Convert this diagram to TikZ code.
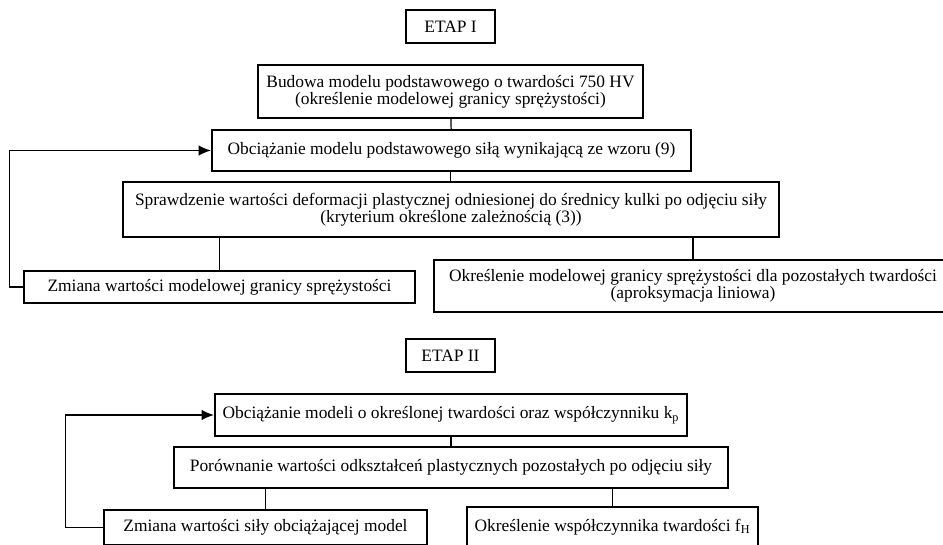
\documentclass[tikz,border=0pt]{standalone}
\usepackage{fontspec}
\setmainfont{Liberation Serif}
\usetikzlibrary{arrows.meta}

\tikzset{
  box/.style={draw, line width=1.3pt, align=center, inner sep=2pt,
              font=\fontsize{9.9}{9.8}\selectfont},
  link/.style={line width=0.7pt},
  back/.style={line width=0.7pt, -{Latex[length=7pt,width=6pt]}}
}

\begin{document}
\begin{tikzpicture}[x=1cm,y=1cm]
  \clip (0,0) rectangle (18.86,10.88);

  % --------------------
  % Etap I
  % --------------------
  \node[box, minimum width=1.78cm, minimum height=0.66cm] (etap1) at (9.01,10.35) {ETAP I};

  \node[box, minimum width=7.70cm, minimum height=1.06cm] (budowa) at (9.01,9.05)
    {Budowa modelu podstawowego o twardości 750 HV\\(określenie modelowej granicy sprężystości)};
  \node[box, minimum width=9.58cm, minimum height=0.82cm] (obc1) at (9.03,7.87)
    {Obciążanie modelu podstawowego siłą wynikającą ze wzoru (9)};
  \node[box, minimum width=13.12cm, minimum height=1.10cm] (spraw) at (9.02,6.69)
    {Sprawdzenie wartości deformacji plastycznej odniesionej do średnicy kulki po odjęciu siły\\(kryterium określone zależnością (3))};
  \node[box, minimum width=7.82cm, minimum height=0.64cm] (zmiana1) at (4.39,5.14)
    {Zmiana wartości modelowej granicy sprężystości};
  \node[box, minimum width=10.36cm, minimum height=1.04cm] (okresl) at (13.86,5.16)
    {Określenie modelowej granicy sprężystości dla pozostałych twardości\\(aproksymacja liniowa)};

  \draw[link] (budowa) -- (obc1);
  \draw[link] (obc1.south -| budowa) -- (spraw.north -| budowa);
  \draw[link] (spraw.south -| zmiana1) -- (zmiana1);
  \draw[link] (spraw.south -| okresl) -- (okresl);
  \draw[back] (zmiana1.west) -- ++(-0.26,0) |- (obc1.west);

  % --------------------
  % Etap II
  % --------------------
  \node[box, minimum width=1.78cm, minimum height=0.66cm] (etap2) at (9.01,3.77) {ETAP II};

  \node[box, minimum width=9.44cm, minimum height=0.84cm] (obc2) at (9.02,2.58)
    {Obciążanie modeli o określonej twardości oraz współczynniku k\textsubscript{p}};
  \node[box, minimum width=11.08cm, minimum height=0.82cm] (por) at (9.02,1.53)
    {Porównanie wartości odkształceń plastycznych pozostałych po odjęciu siły};
  \node[box, minimum width=6.46cm, minimum height=0.70cm] (zmiana2) at (5.31,0.33)
    {Zmiana wartości siły obciążającej model};
  \node[box, minimum width=5.82cm, minimum height=0.80cm] (wspH) at (12.25,0.34)
    {Określenie współczynnika twardości f\textsubscript{H}};

  \draw[link] (obc2) -- (por);
  \draw[link] (por.south -| zmiana2) -- (zmiana2);
  \draw[link] (por.south -| wspH) -- (wspH);
  \draw[back] (zmiana2.west) -- ++(-0.74,0) |- (obc2.west);
\end{tikzpicture}
\end{document}
